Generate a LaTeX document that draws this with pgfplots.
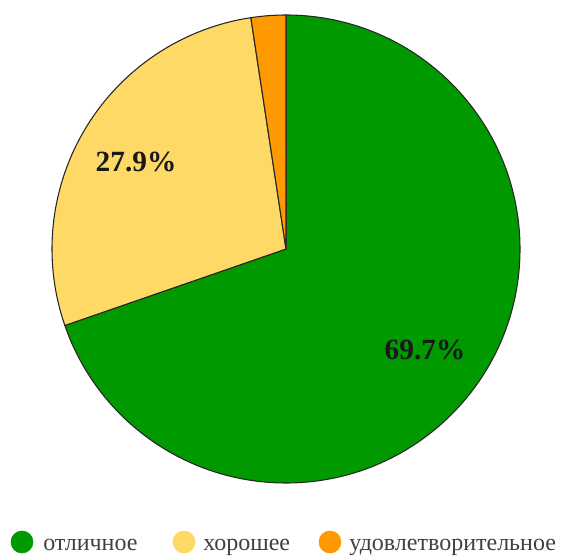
\documentclass[border=0pt]{standalone}
\usepackage{fontspec}
\setmainfont{Liberation Serif}
\usepackage{pgfplots}
\pgfplotsset{compat=1.18}
\definecolor{cgreen}{RGB}{0,153,0}
\definecolor{cyellow}{RGB}{255,217,102}
\definecolor{corange}{RGB}{255,153,0}
\def\vA{69.7}
\def\vB{27.9}
\def\vC{2.4}
\def\R{175.5pt}
\begin{document}
\begin{tikzpicture}
\begin{axis}[x=0.75pt,y=0.75pt,xmin=0,xmax=561,ymin=0,ymax=560,hide axis,clip=false,scale only axis]
\pgfmathsetmacro{\aA}{90-\vA*3.6}
\pgfmathsetmacro{\aB}{\aA-\vB*3.6}
\pgfmathsetmacro{\aC}{\aB-\vC*3.6}
\path (axis cs:0,0) rectangle (axis cs:561,560);
\filldraw[fill=cgreen,draw=black!85,line width=0.8pt,line join=round] (axis cs:286,311) -- ++(90:\R) arc[start angle=90,end angle=\aA,radius=\R] -- cycle;
\filldraw[fill=cyellow,draw=black!85,line width=0.8pt,line join=round] (axis cs:286,311) -- ++(\aA:\R) arc[start angle=\aA,end angle=\aB,radius=\R] -- cycle;
\filldraw[fill=corange,draw=black!85,line width=0.8pt,line join=round] (axis cs:286,311) -- ++(\aB:\R) arc[start angle=\aB,end angle=\aC,radius=\R] -- cycle;
\node[font=\fontsize{22}{24}\selectfont\bfseries,text=black!90] at (axis cs:136,398) {27.9\%};
\node[font=\fontsize{22}{24}\selectfont\bfseries,text=black!90] at (axis cs:425,210) {69.7\%};
\addplot[only marks,mark=*,mark size=8.3pt,mark options={fill=cgreen,draw=cgreen}] coordinates {(22,18)};
\addplot[only marks,mark=*,mark size=8.3pt,mark options={fill=cyellow,draw=cyellow}] coordinates {(184,18)};
\addplot[only marks,mark=*,mark size=8.3pt,mark options={fill=corange,draw=corange}] coordinates {(330,18)};
\node[anchor=base west,inner sep=0pt,font=\fontsize{18}{20}\selectfont,text=black!75] at (axis cs:43,9) {отличное};
\node[anchor=base west,inner sep=0pt,font=\fontsize{18}{20}\selectfont,text=black!75] at (axis cs:203,9) {хорошее};
\node[anchor=base west,inner sep=0pt,font=\fontsize{18}{20}\selectfont,text=black!75] at (axis cs:349,9) {удовлетворительное};
\end{axis}
\end{tikzpicture}
\end{document}
